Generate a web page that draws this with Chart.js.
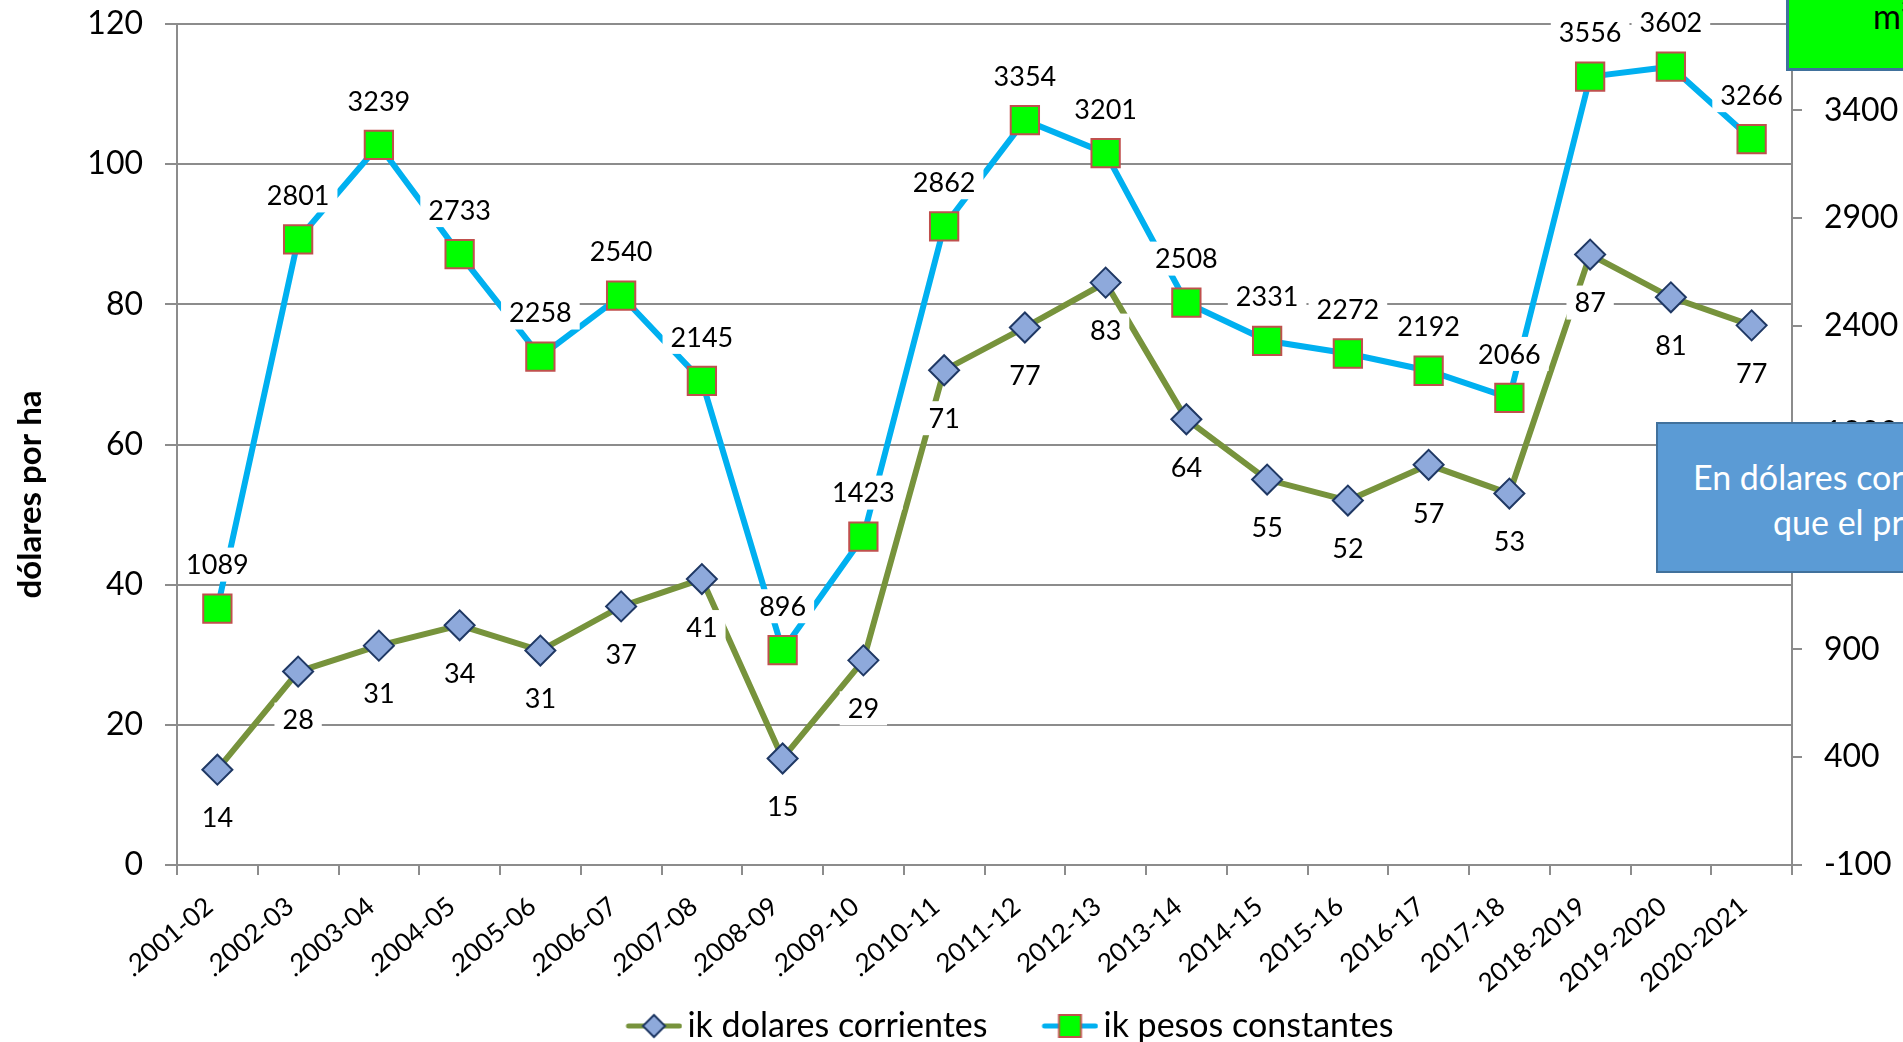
<!DOCTYPE html>
<html lang="es">
<head>
<meta charset="utf-8">
<title>ik dolares corrientes / ik pesos constantes</title>
<script src="https://cdn.jsdelivr.net/npm/chart.js@4.4.1/dist/chart.umd.min.js"></script>
<style>
    html, body { margin: 0; padding: 0; background: #fff; overflow: hidden; }
    #wrap { position: relative; width: 1903px; height: 1042px; overflow: hidden; }
    #chart { position: absolute; left: 0; top: 0; }
    .box-green {
        position: absolute; left: 1786px; top: -4px; width: 420px; height: 75px;
        background: #00ff00; border: 3px solid #41719c; box-sizing: border-box;
    }
    .box-green span { position: absolute; left: 84px; top: 0px; font: 34px Lato; line-height: 34px; color: #000; white-space: nowrap; }
    .box-blue {
        position: absolute; left: 1656px; top: 422px; width: 520px; height: 151px;
        background: #5b9bd5; border: 2px solid #41719c; box-sizing: border-box;
    }
    .box-blue span { position: absolute; font: 34px Lato; line-height: 34px; color: #fff; white-space: nowrap; }
</style>
</head>
<body>
<div id="wrap">
    <canvas id="chart" width="1975" height="1053"></canvas>
    <div class="box-green"><span>m³ de pesos constantes</span></div>
    <div class="box-blue">
        <span style="left:35px; top:36px;">En dólares corrientes el ik creció más</span>
        <span style="left:115px; top:81px;">que el promedio</span>
    </div>
</div>
<script>
// categorias y valores
const categories = ['.2001-02', '.2002-03', '.2003-04', '.2004-05', '.2005-06', '.2006-07', '.2007-08',
    '.2008-09', '.2009-10', '.2010-11', '2011-12', '2012-13', '2013-14', '2014-15', '2015-16',
    '2016-17', '2017-18', '2018-2019', '2019-2020', '2020-2021'];
const dolaresCorrientes = [13.6, 27.6, 31.3, 34.2, 30.6, 36.9, 40.8, 15.2, 29.2, 70.6,
    76.7, 83.1, 63.6, 55.0, 52.0, 57.1, 53.0, 87.1, 81.0, 77.0];
const pesosConstantes = [1089, 2801, 3239, 2733, 2258, 2540, 2145, 896, 1423, 2862,
    3354, 3201, 2508, 2331, 2272, 2192, 2066, 3556, 3602, 3266];
const leftTicks = [0, 20, 40, 60, 80, 100, 120];
const rightTicks = [-100, 400, 900, 1400, 1900, 2400, 2900, 3400];

const GRID = '#8c8c8c';
const FONT = 'Lato';
const W = 1975;

// marcador de leyenda: linea + simbolo
function legendMarker(lineColor, drawSymbol) {
    const c = document.createElement('canvas');
    c.width = 113;
    c.height = 34;
    const g = c.getContext('2d');
    g.strokeStyle = lineColor;
    g.lineWidth = 5;
    g.lineCap = 'round';
    g.beginPath();
    g.moveTo(59, 17);
    g.lineTo(110, 17);
    g.stroke();
    drawSymbol(g, 84.5, 17);
    return c;
}

const diamondMarker = legendMarker('#77933c', (g, x, y) => {
    g.beginPath();
    g.moveTo(x - 11, y);
    g.lineTo(x, y - 11);
    g.lineTo(x + 11, y);
    g.lineTo(x, y + 11);
    g.closePath();
    g.fillStyle = '#8ea9db';
    g.fill();
    g.lineWidth = 2;
    g.strokeStyle = '#1f3864';
    g.stroke();
});

const squareMarker = legendMarker('#00b0f0', (g, x, y) => {
    g.fillStyle = '#00ff00';
    g.fillRect(x - 11, y - 11, 22, 22);
    g.lineWidth = 2;
    g.strokeStyle = '#c0504d';
    g.strokeRect(x - 11, y - 11, 22, 22);
});

// etiquetas de datos con fondo blanco
const valueLabels = {
    id: 'valueLabels',
    afterDatasetsDraw(chart) {
        const ctx = chart.ctx;
        ctx.save();
        ctx.font = '27px ' + FONT;
        ctx.textAlign = 'center';
        ctx.textBaseline = 'middle';
        chart.data.datasets.forEach((ds, i) => {
            const meta = chart.getDatasetMeta(i);
            meta.data.forEach((pt, j) => {
                const txt = String(Math.round(ds.data[j]));
                const x = pt.x;
                const y = pt.y + ds.labelShift;
                const w = ctx.measureText(txt).width + 16;
                ctx.fillStyle = '#fff';
                ctx.fillRect(x - w / 2, y - 17, w, 34);
                ctx.fillStyle = '#000';
                ctx.fillText(txt, x, y + 1);
            });
        });
        ctx.restore();
    }
};

// titulo del eje izquierdo
const yTitle = {
    id: 'yTitle',
    afterDraw(chart) {
        const { ctx, chartArea } = chart;
        ctx.save();
        ctx.translate(30, (chartArea.top + chartArea.bottom) / 2 + 50);
        ctx.rotate(-Math.PI / 2);
        ctx.font = 'bold 33px ' + FONT;
        ctx.fillStyle = '#000';
        ctx.textAlign = 'center';
        ctx.textBaseline = 'middle';
        ctx.fillText('dólares por ha', 0, 0);
        ctx.restore();
    }
};

function fixVertical(width) {
    return s => {
        s.width = width;
        s.paddingTop = 0;
        s.paddingBottom = 0;
    };
}

const canvas = document.getElementById('chart');

new Chart(canvas, {
    type: 'line',
    data: {
        labels: categories,
        datasets: [
            {
                label: 'ik dolares corrientes',
                data: dolaresCorrientes,
                yAxisID: 'y',
                borderColor: '#77933c',
                borderWidth: 6,
                tension: 0,
                pointStyle: 'rectRot',
                pointRadius: 15,
                pointBackgroundColor: '#8ea9db',
                pointBorderColor: '#1f3864',
                pointBorderWidth: 2,
                labelShift: 48
            },
            {
                label: 'ik pesos constantes',
                data: pesosConstantes,
                yAxisID: 'y1',
                borderColor: '#00b0f0',
                borderWidth: 6,
                tension: 0,
                pointStyle: 'rect',
                pointRadius: 20,
                pointBackgroundColor: '#00ff00',
                pointBorderColor: '#c0504d',
                pointBorderWidth: 2,
                labelShift: -44
            }
        ]
    },
    options: {
        responsive: false,
        animation: false,
        layout: { padding: { left: 0, right: 0, top: 24, bottom: 0 } },
        plugins: {
            tooltip: { enabled: false },
            legend: {
                position: 'bottom',
                labels: {
                    usePointStyle: true,
                    pointStyleWidth: 89,
                    padding: 10,
                    color: '#000',
                    font: { family: FONT, size: 34 },
                    generateLabels(chart) {
                        const items = Chart.defaults.plugins.legend.labels.generateLabels(chart);
                        items[0].pointStyle = diamondMarker;
                        items[1].pointStyle = squareMarker;
                        return items;
                    }
                }
            }
        },
        scales: {
            x: {
                offset: true,
                grid: { offset: true, drawOnChartArea: false, color: GRID, lineWidth: 2, tickLength: 10 },
                border: { color: GRID, width: 2 },
                ticks: {
                    color: '#000',
                    font: { family: FONT, size: 26 },
                    minRotation: 40,
                    maxRotation: 40,
                    autoSkip: false,
                    padding: 16,
                    labelOffset: -8
                },
                afterFit(s) { s.height = 134; }
            },
            y: {
                position: 'left',
                min: 0,
                max: 120,
                afterBuildTicks(s) { s.ticks = leftTicks.map(v => ({ value: v })); },
                grid: { color: GRID, lineWidth: 2, tickLength: 12 },
                border: { color: GRID, width: 2 },
                ticks: { color: '#000', font: { family: FONT, size: 32 }, padding: 22 },
                afterFit: fixVertical(177)
            },
            y1: {
                position: 'right',
                min: -100,
                max: 3800,
                afterBuildTicks(s) { s.ticks = rightTicks.map(v => ({ value: v })); },
                grid: { drawOnChartArea: false, color: GRID, lineWidth: 2, tickLength: 10 },
                border: { color: GRID, width: 2 },
                ticks: {
                    color: '#000',
                    font: { family: FONT, size: 32 },
                    padding: 22,
                    callback: v => String(v)
                },
                afterFit: fixVertical(W - 1792)
            }
        }
    },
    plugins: [valueLabels, yTitle]
});
</script>
</body>
</html>
